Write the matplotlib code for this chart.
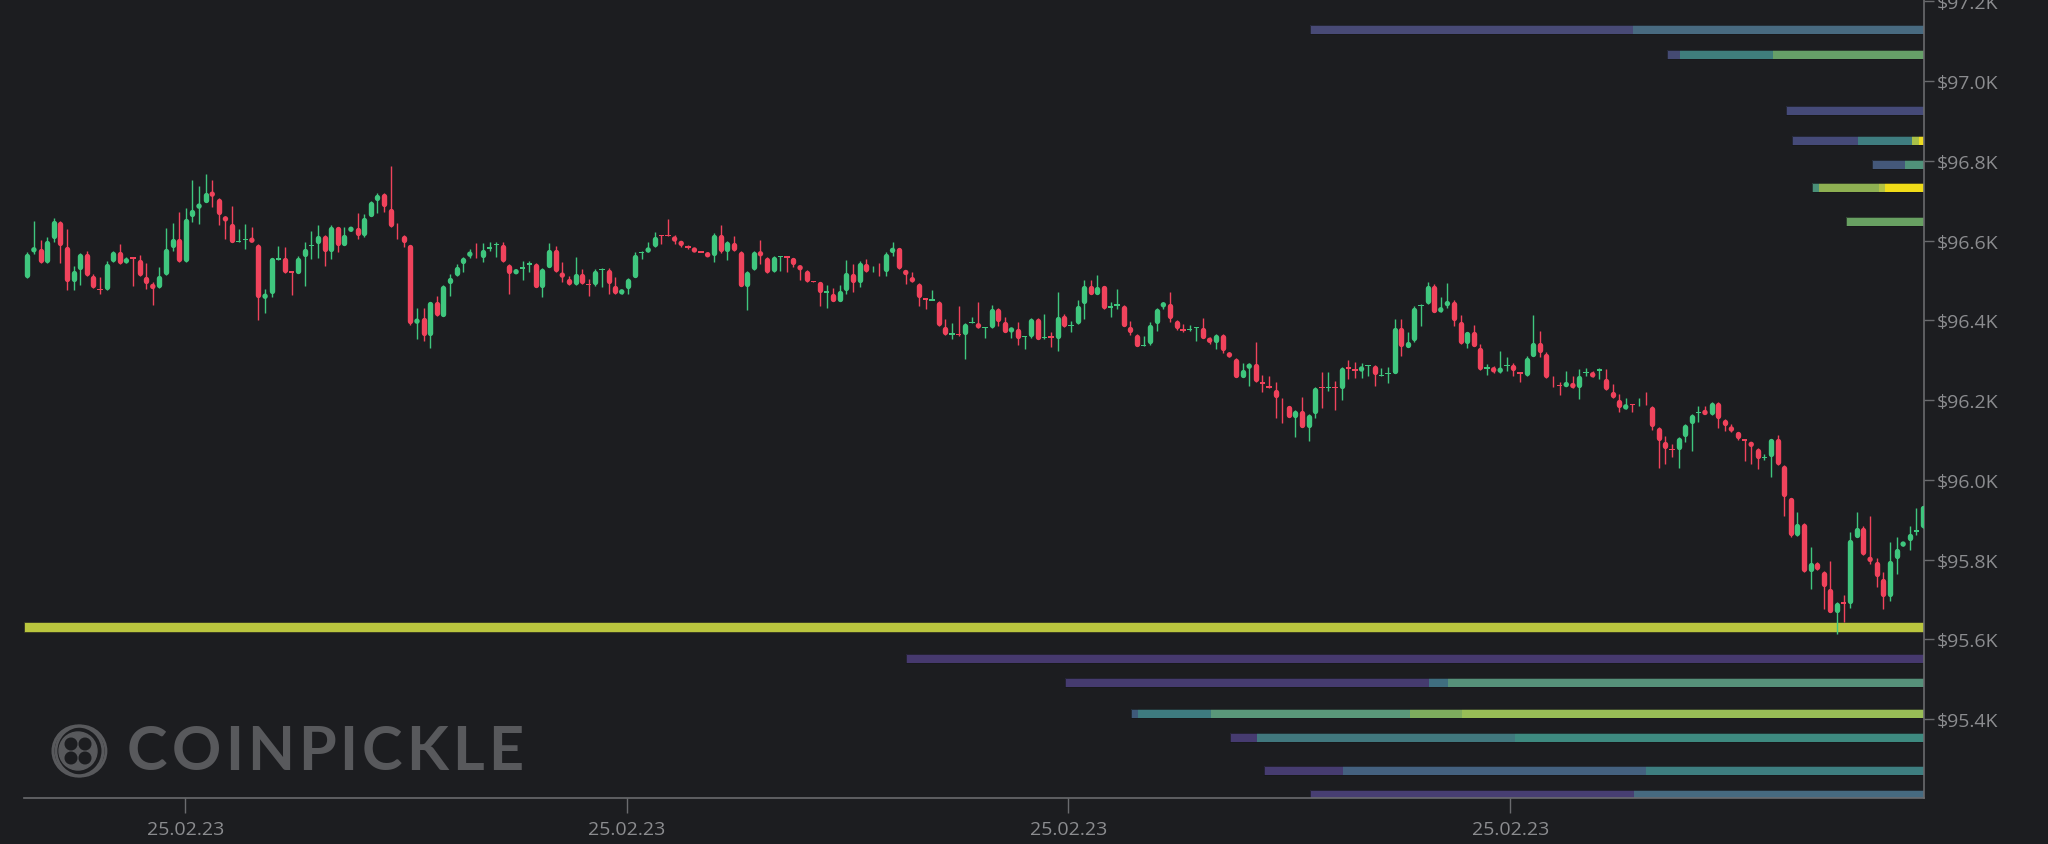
import matplotlib
matplotlib.use("Agg")
import matplotlib.pyplot as plt
import numpy as np
from matplotlib.patches import Circle

# ---- candles (one per bar, left to right) ----
OPEN = [96508, 96573, 96581, 96544, 96604, 96649, 96586, 96496, 96527, 96568, 96512, 96479, 96477, 96546, 96573, 96543, 96558, 96554, 96510, 96491,
        96481, 96515, 96583, 96606, 96547, 96660, 96681, 96696, 96723, 96706, 96661, 96644, 96596, 96601, 96604, 96592, 96456, 96466, 96552, 96557,
        96522, 96518, 96560, 96586, 96593, 96614, 96573, 96635, 96588, 96623, 96634, 96613, 96661, 96700, 96719, 96681, 96634, 96614, 96590, 96391,
        96408, 96362, 96447, 96410, 96491, 96512, 96541, 96561, 96571, 96556, 96579, 96589, 96592, 96541, 96519, 96529, 96540, 96543, 96483, 96533,
        96577, 96519, 96505, 96489, 96519, 96491, 96489, 96526, 96529, 96489, 96466, 96479, 96508, 96569, 96571, 96585, 96614, 96614, 96611, 96597,
        96587, 96580, 96572, 96568, 96562, 96617, 96571, 96597, 96573, 96485, 96526, 96573, 96558, 96521, 96558, 96561, 96557, 96537, 96525, 96499,
        96497, 96470, 96469, 96448, 96475, 96519, 96494, 96544, 96521, 96536, 96521, 96569, 96582, 96526, 96508, 96493, 96455, 96450, 96448, 96385,
        96364, 96366, 96363, 96393, 96393, 96380, 96381, 96430, 96397, 96372, 96380, 96358, 96359, 96405, 96355, 96360, 96353, 96412, 96385, 96391,
        96441, 96487, 96465, 96487, 96431, 96437, 96439, 96384, 96366, 96335, 96341, 96391, 96435, 96443, 96401, 96378, 96376, 96380, 96383, 96353,
        96345, 96364, 96320, 96305, 96257, 96278, 96292, 96245, 96235, 96226, 96205, 96186, 96157, 96174, 96132, 96165, 96234, 96230, 96234, 96228,
        96282, 96278, 96274, 96286, 96288, 96261, 96265, 96267, 96383, 96332, 96349, 96435, 96441, 96489, 96420, 96437, 96447, 96398, 96341, 96372,
        96332, 96278, 96282, 96268, 96286, 96289, 96270, 96261, 96310, 96345, 96317, 96253, 96238, 96235, 96243, 96232, 96268, 96270, 96273, 96255,
        96221, 96201, 96180, 96190, 96188, 96203, 96185, 96132, 96096, 96077, 96076, 96109, 96142, 96168, 96174, 96163, 96195, 96153, 96134, 96121,
        96103, 96094, 96080, 96054, 96057, 96103, 96036, 95955, 95860, 95892, 95770, 95793, 95771, 95729, 95668, 95693, 95689, 95856, 95881, 95806,
        95795, 95754, 95708, 95803, 95833, 95848, 95869, 95879]
HIGH = [96571, 96650, 96602, 96610, 96656, 96649, 96629, 96536, 96568, 96573, 96517, 96508, 96550, 96575, 96592, 96558, 96558, 96565, 96544, 96496,
        96533, 96631, 96644, 96671, 96683, 96752, 96736, 96766, 96752, 96706, 96661, 96686, 96629, 96641, 96633, 96592, 96479, 96557, 96586, 96585,
        96522, 96561, 96596, 96625, 96640, 96614, 96640, 96635, 96634, 96634, 96669, 96667, 96699, 96719, 96719, 96787, 96644, 96614, 96590, 96430,
        96430, 96447, 96462, 96489, 96516, 96541, 96558, 96579, 96594, 96594, 96597, 96596, 96596, 96541, 96525, 96550, 96550, 96543, 96531, 96593,
        96587, 96547, 96512, 96558, 96529, 96504, 96529, 96531, 96531, 96508, 96477, 96506, 96571, 96575, 96596, 96621, 96614, 96653, 96614, 96600,
        96589, 96580, 96572, 96571, 96618, 96639, 96598, 96611, 96573, 96525, 96573, 96602, 96558, 96561, 96561, 96561, 96557, 96537, 96527, 96499,
        96497, 96489, 96480, 96489, 96552, 96542, 96550, 96554, 96536, 96544, 96571, 96596, 96582, 96526, 96521, 96493, 96455, 96476, 96448, 96404,
        96393, 96435, 96393, 96408, 96447, 96383, 96439, 96430, 96409, 96380, 96395, 96360, 96405, 96405, 96416, 96370, 96472, 96416, 96399, 96452,
        96502, 96502, 96514, 96487, 96445, 96479, 96439, 96399, 96366, 96362, 96395, 96431, 96447, 96470, 96401, 96391, 96388, 96383, 96406, 96358,
        96366, 96366, 96320, 96305, 96293, 96292, 96345, 96263, 96261, 96245, 96205, 96186, 96174, 96207, 96164, 96232, 96270, 96270, 96249, 96282,
        96301, 96295, 96292, 96288, 96289, 96281, 96282, 96404, 96404, 96372, 96437, 96441, 96497, 96491, 96458, 96494, 96451, 96414, 96372, 96389,
        96341, 96291, 96286, 96322, 96309, 96293, 96270, 96310, 96414, 96374, 96320, 96260, 96245, 96274, 96260, 96278, 96280, 96274, 96280, 96278,
        96241, 96215, 96205, 96190, 96205, 96220, 96185, 96132, 96109, 96090, 96107, 96140, 96164, 96185, 96185, 96195, 96195, 96153, 96140, 96121,
        96103, 96094, 96080, 96065, 96103, 96113, 96036, 95955, 95920, 95892, 95831, 95795, 95771, 95797, 95693, 95710, 95870, 95920, 95885, 95910,
        95803, 95768, 95843, 95856, 95845, 95884, 95929, 95935]
LOW = [96506, 96567, 96544, 96544, 96596, 96544, 96475, 96475, 96489, 96511, 96481, 96466, 96477, 96546, 96542, 96543, 96485, 96512, 96479, 96439,
       96481, 96515, 96575, 96547, 96547, 96646, 96642, 96696, 96684, 96640, 96604, 96596, 96596, 96578, 96598, 96402, 96419, 96458, 96551, 96519,
       96464, 96518, 96486, 96554, 96556, 96536, 96554, 96571, 96588, 96623, 96603, 96609, 96661, 96670, 96671, 96635, 96604, 96583, 96388, 96353,
       96347, 96330, 96412, 96410, 96462, 96512, 96522, 96556, 96556, 96546, 96575, 96558, 96546, 96466, 96519, 96500, 96521, 96483, 96458, 96533,
       96521, 96495, 96489, 96489, 96491, 96460, 96485, 96483, 96466, 96466, 96466, 96466, 96508, 96554, 96571, 96585, 96592, 96612, 96592, 96583,
       96580, 96573, 96571, 96561, 96546, 96569, 96552, 96575, 96485, 96427, 96526, 96541, 96519, 96521, 96525, 96522, 96533, 96500, 96496, 96496,
       96435, 96431, 96448, 96448, 96466, 96472, 96483, 96521, 96521, 96512, 96512, 96562, 96529, 96491, 96496, 96437, 96429, 96450, 96387, 96363,
       96352, 96362, 96303, 96393, 96380, 96355, 96381, 96387, 96370, 96355, 96338, 96328, 96355, 96352, 96353, 96333, 96324, 96383, 96372, 96391,
       96404, 96465, 96465, 96429, 96408, 96429, 96385, 96363, 96335, 96335, 96337, 96374, 96429, 96395, 96377, 96372, 96374, 96347, 96355, 96341,
       96328, 96318, 96307, 96257, 96257, 96235, 96246, 96220, 96230, 96155, 96143, 96157, 96107, 96132, 96097, 96154, 96179, 96224, 96176, 96199,
       96253, 96255, 96255, 96260, 96236, 96260, 96243, 96267, 96310, 96332, 96345, 96387, 96441, 96420, 96420, 96431, 96387, 96341, 96330, 96335,
       96276, 96263, 96268, 96268, 96274, 96260, 96245, 96261, 96310, 96307, 96255, 96232, 96213, 96235, 96230, 96203, 96260, 96257, 96253, 96226,
       96205, 96171, 96178, 96171, 96186, 96188, 96126, 96029, 96040, 96057, 96029, 96096, 96073, 96146, 96164, 96163, 96129, 96123, 96121, 96101,
       96046, 96040, 96026, 96051, 96006, 96037, 95910, 95856, 95860, 95770, 95726, 95774, 95675, 95668, 95614, 95643, 95678, 95856, 95812, 95789,
       95731, 95676, 95697, 95764, 95833, 95823, 95862, 95879]
CLOSE = [96568, 96581, 96544, 96602, 96650, 96588, 96496, 96525, 96568, 96511, 96481, 96476, 96543, 96573, 96542, 96556, 96555, 96512, 96493, 96479,
         96512, 96581, 96606, 96547, 96656, 96678, 96692, 96721, 96710, 96665, 96648, 96596, 96600, 96604, 96598, 96456, 96465, 96557, 96557, 96519,
         96520, 96558, 96581, 96589, 96614, 96573, 96635, 96588, 96617, 96634, 96613, 96659, 96699, 96717, 96684, 96635, 96619, 96594, 96391, 96405,
         96362, 96447, 96412, 96489, 96508, 96536, 96558, 96571, 96556, 96577, 96583, 96592, 96546, 96516, 96525, 96533, 96543, 96483, 96531, 96577,
         96521, 96508, 96489, 96519, 96491, 96489, 96526, 96529, 96491, 96466, 96477, 96506, 96566, 96572, 96582, 96612, 96612, 96612, 96597, 96589,
         96582, 96573, 96571, 96561, 96617, 96571, 96598, 96575, 96485, 96523, 96573, 96561, 96519, 96561, 96561, 96557, 96539, 96527, 96496, 96496,
         96470, 96473, 96448, 96475, 96521, 96494, 96546, 96521, 96536, 96521, 96567, 96582, 96529, 96514, 96496, 96458, 96453, 96452, 96387, 96363,
         96367, 96363, 96393, 96395, 96380, 96383, 96430, 96397, 96370, 96380, 96355, 96360, 96405, 96352, 96359, 96355, 96410, 96383, 96389, 96437,
         96487, 96465, 96485, 96429, 96435, 96440, 96385, 96368, 96335, 96339, 96391, 96431, 96443, 96405, 96378, 96374, 96378, 96383, 96355, 96347,
         96364, 96324, 96307, 96257, 96276, 96292, 96246, 96241, 96230, 96207, 96190, 96157, 96174, 96132, 96164, 96232, 96230, 96234, 96230, 96282,
         96278, 96274, 96282, 96288, 96263, 96263, 96267, 96383, 96335, 96347, 96433, 96439, 96489, 96420, 96433, 96447, 96399, 96341, 96372, 96335,
         96276, 96282, 96270, 96282, 96289, 96274, 96266, 96307, 96345, 96320, 96257, 96238, 96235, 96243, 96230, 96263, 96271, 96257, 96278, 96226,
         96205, 96180, 96186, 96188, 96203, 96188, 96134, 96098, 96077, 96075, 96107, 96140, 96164, 96171, 96164, 96195, 96154, 96136, 96121, 96104,
         96098, 96084, 96054, 96057, 96103, 96037, 95958, 95860, 95892, 95770, 95793, 95774, 95731, 95668, 95693, 95689, 95852, 95881, 95812, 95795,
         95758, 95708, 95797, 95828, 95845, 95867, 95874, 95935]

# ---- liquidation levels: price, segment starts (bar index), segment colours ----
LEVEL_PRICES = [97130, 97068, 96927, 96852, 96790, 96732, 96649,
                95551, 95491, 95413, 95353, 95272, 95212]
LEVEL_STARTS = [[194.2, 243.1],
                [248.2, 250.2, 264.3],
                [266.3],
                [267.2, 277.2, 285.4, 286.4],
                [279.3, 284.3],
                [270.2, 271.3, 280.4, 281.3],
                [275.4],
                [133.0],
                [157.1, 212.2, 215.1],
                [167.1, 168.2, 179.2, 209.3, 217.2],
                [182.1, 186.2, 225.2],
                [187.2, 199.2, 245.1],
                [194.2, 243.3]]
LEVEL_COLORS = [["#484a76", "#486a80"],
                ["#444a72", "#3f7e7c", "#66a068"],
                ["#454a78"],
                ["#454a78", "#3f7d80", "#a8c048", "#eedc22"],
                ["#44587a", "#50927a"],
                ["#4a9078", "#8eb052", "#b2c244", "#f0dc18"],
                ["#68a062"],
                ["#46396e"],
                ["#453b6f", "#3f6e80", "#56917a"],
                ["#3e5a7a", "#3e7b80", "#5a987a", "#7eac5e", "#98bd56"],
                ["#463b70", "#41787e", "#3e8a80"],
                ["#463c70", "#44617f", "#3e7e80"],
                ["#473e72", "#466a80"]]
MAIN_LEVEL = 95631

Y_TICKS = [95400, 95600, 95800, 96000, 96200, 96400, 96600, 96800, 97000, 97200]
X_TICKS = [23.9, 90.8, 157.6, 224.5]
X_TICK_LABELS = ["25.02.23"] * 4

BG = "#1c1d20"
UP = "#3fc67e"
DOWN = "#f0435c"
AXIS = "#6a6b6e"
LABEL = "#8b8c8f"
WM = "#58595c"

W, H, DPI = 2048, 845, 100
X_LEFT, X_RIGHT = -0.5, 287.16
Y_BOT, Y_TOP = 95202, 97206
AX_L, AX_B, AX_W, AX_H = 24, 46, 1900, 799   # pixels

fig = plt.figure(figsize=(W / DPI, H / DPI), dpi=DPI, facecolor=BG)
ax = fig.add_axes([AX_L / W, AX_B / H, AX_W / W, AX_H / H], facecolor=BG)
ax.set_xlim(X_LEFT, X_RIGHT)
ax.set_ylim(Y_BOT, Y_TOP)

usd_px = (Y_TOP - Y_BOT) / AX_H
idx_px = AX_W / (X_RIGHT - X_LEFT)
bar_h = 9 * usd_px

# liquidation bars
ax.barh(MAIN_LEVEL, X_RIGHT - X_LEFT, left=X_LEFT, height=10 * usd_px,
        color="#bac63e", edgecolor="#2a2b22", linewidth=0.5, zorder=1)
for price, starts, cols in zip(LEVEL_PRICES, LEVEL_STARTS, LEVEL_COLORS):
    ends = starts[1:] + [X_RIGHT]
    for s, e, col in zip(starts, ends, cols):
        ax.barh(price, e - s, left=s, height=bar_h, color=col,
                linewidth=0, zorder=1)
    ax.barh(price, X_RIGHT - starts[0], left=starts[0], height=bar_h,
            fill=False, edgecolor="#17181b", linewidth=0.5, zorder=1.1)

# candles
o, hi_, lo_, c = (np.array(a, dtype=float) for a in (OPEN, HIGH, LOW, CLOSE))
x = np.arange(len(o))
col = np.where(c >= o, UP, DOWN)
ax.vlines(x, lo_, hi_, colors=col, linewidth=1.0, zorder=3)

BODY_PX = 5.4
b_lo = np.minimum(o, c)
b_hi = np.maximum(o, c)
b_px = (b_hi - b_lo) / usd_px
r = BODY_PX / 2 * usd_px
tall = b_px > BODY_PX + 0.5
ax.vlines(x[tall], b_lo[tall] + r, b_hi[tall] - r, colors=col[tall],
          linewidth=BODY_PX * 0.72, capstyle="round", zorder=4)
mid = (b_lo + b_hi) / 2
dot = (b_px >= 2.0) & ~tall
ax.scatter(x[dot], mid[dot], s=(BODY_PX * 0.72) ** 2, c=col[dot],
           linewidths=0, zorder=4)
flat = b_px < 2.0
fh = np.maximum(b_hi - b_lo, 1.4 * usd_px)
ax.bar(x[flat], fh[flat], bottom=mid[flat] - fh[flat] / 2,
       width=BODY_PX / idx_px, color=col[flat], linewidth=0, zorder=4)

# axes styling
for side in ("top", "left"):
    ax.spines[side].set_visible(False)
for side in ("right", "bottom"):
    ax.spines[side].set_color(AXIS)
    ax.spines[side].set_linewidth(1.2)

ax.yaxis.tick_right()
ax.set_yticks(Y_TICKS)
ax.set_yticklabels([f"${v / 1000:.1f}K" for v in Y_TICKS], family="Open Sans")
ax.set_xticks(X_TICKS)
ax.set_xticklabels(X_TICK_LABELS, family="Open Sans")
ax.tick_params(axis="y", length=7, width=1, color=AXIS, labelcolor=LABEL,
               labelsize=14, pad=2)
ax.tick_params(axis="x", length=11, width=1, color=AXIS, labelcolor=LABEL,
               labelsize=14, pad=5)

# watermark
logo_c = (78 / DPI, (H - 752) / DPI)
tr = fig.dpi_scale_trans
fig.patches.append(Circle((logo_c[0] + 0.03, logo_c[1]), 0.25, fill=False,
                          edgecolor=WM, linewidth=2.0, transform=tr))
fig.patches.append(Circle(logo_c, 0.25, fill=False, edgecolor=WM,
                          linewidth=2.2, transform=tr))
fig.patches.append(Circle(logo_c, 0.19, color=WM, transform=tr))
for dx in (-0.07, 0.07):
    for dy in (-0.07, 0.07):
        fig.patches.append(Circle((logo_c[0] + dx, logo_c[1] + dy), 0.058,
                                  color=BG, transform=tr))

renderer = fig.canvas.get_renderer()
xp = 127
for ch in "COINPICKLE":
    t = fig.text(xp / W, (H - 752) / H, ch, family="Lato", fontweight="bold",
                 fontsize=44, color=WM, va="center", ha="left")
    xp += t.get_window_extent(renderer).width + 4

fig.savefig("out.png", dpi=DPI, facecolor=BG)
